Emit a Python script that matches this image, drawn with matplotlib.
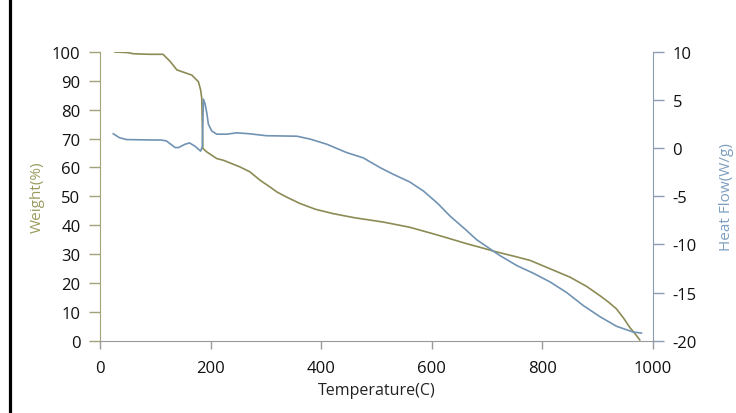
import matplotlib.pyplot as plt
from matplotlib.patches import Rectangle

# --- Data (TGA / DSC) ---
weight_temp = [27, 50, 60, 90, 114, 127, 139, 151, 166, 178, 182, 184, 185, 186,
               193, 211, 223, 253, 271, 290, 307, 320, 340, 362, 390, 422, 460,
               512, 560, 603, 630, 663, 690, 714, 750, 778, 814, 850, 880, 904,
               920, 934, 948, 958, 968, 976]
weight_pct = [100, 99.8, 99.4, 99.2, 99.2, 96.7, 93.8, 93.0, 92.0, 89.7, 86.8, 84.0,
              75.0, 66.6, 65.4, 63.1, 62.5, 60.2, 58.5, 55.5, 53.3, 51.5, 49.5, 47.5,
              45.5, 44.0, 42.6, 41.1, 39.3, 37.0, 35.5, 33.6, 32.2, 30.9, 29.2, 27.8,
              24.9, 22.0, 18.8, 15.6, 13.3, 11.0, 7.5, 4.6, 2.3, 0.3]

heat_temp = [24, 35, 48, 90, 111, 120, 136, 142, 154, 162, 172, 182, 185, 187, 190,
             193, 196, 202, 211, 229, 247, 271, 301, 356, 380, 410, 446, 476, 506,
             530, 560, 585, 610, 633, 660, 681, 714, 723, 754, 784, 814, 844, 874,
             904, 934, 964, 979]
heat_flow = [1.5, 1.1, 0.9, 0.86, 0.85, 0.76, 0.07, 0.07, 0.42, 0.55, 0.2, -0.3, 0.2,
             5.1, 4.6, 3.7, 2.5, 1.8, 1.46, 1.46, 1.6, 1.5, 1.3, 1.25, 0.95, 0.42,
             -0.45, -1.0, -2.0, -2.7, -3.5, -4.45, -5.7, -7.05, -8.4, -9.5, -10.8,
             -11.15, -12.2, -13.0, -13.9, -15.0, -16.35, -17.5, -18.5, -19.1, -19.2]

x_ticks = [0, 200, 400, 600, 800, 1000]
w_ticks = list(range(0, 101, 10))
h_ticks = [-20, -15, -10, -5, 0, 5, 10]

# --- Styling ---
plt.rcParams['font.family'] = ['Open Sans', 'DejaVu Sans']
plt.rcParams['axes.unicode_minus'] = False
olive = '#8c8b55'
olive_txt = '#9a9b5e'
blue = '#7193b3'
blue_txt = '#7d9ec0'

fig = plt.figure(figsize=(7.36, 4.14), dpi=100)
ax1 = fig.add_axes([100 / 736, 1 - 341.7 / 414, 553 / 736, 288.7 / 414])

ax1.plot(weight_temp, weight_pct, color=olive, lw=1.2)
ax1.set_xlim(0, 1000)
ax1.set_ylim(0, 100)
ax1.set_xticks(x_ticks)
ax1.set_yticks(w_ticks)
ax1.set_xlabel('Temperature(C)', fontsize=11.5, color='#222222', labelpad=4)
ax1.set_ylabel('Weight(%)', fontsize=11, color=olive_txt, labelpad=5)
ax1.tick_params(axis='x', direction='out', length=6, width=1, color='#999999',
                labelsize=12, pad=8, labelcolor='#111111')
ax1.tick_params(axis='y', direction='out', length=8, width=1, color='#a3a37a',
                labelsize=12, pad=6, labelcolor='#111111')
ax1.spines['top'].set_visible(False)
ax1.spines['right'].set_visible(False)
ax1.spines['left'].set_color('#a3a37a')
ax1.spines['bottom'].set_color('#999999')

# --- Heat flow on the right axis ---
ax2 = ax1.twinx()
ax2.plot(heat_temp, heat_flow, color=blue, lw=1.2)
ax2.set_ylim(-20, 10)
ax2.set_yticks(h_ticks)
ax2.set_ylabel('Heat Flow(W/g)', fontsize=11, color=blue_txt, labelpad=16)
ax2.tick_params(axis='y', direction='out', length=8, width=1, color='#8a9cae',
                labelsize=12, pad=6, labelcolor='#111111')
for s in ['top', 'left', 'bottom']:
    ax2.spines[s].set_visible(False)
ax2.spines['right'].set_color('#8a9cae')

# black frame on left and top (picture is cropped at right/bottom)
fig.add_artist(Rectangle((9.5 / 736, -0.2), 1.2, 1.2 + (403 / 414),
                         transform=fig.transFigure, fill=False,
                         edgecolor='black', linewidth=2.3))

fig.savefig('out.png', dpi=100)
